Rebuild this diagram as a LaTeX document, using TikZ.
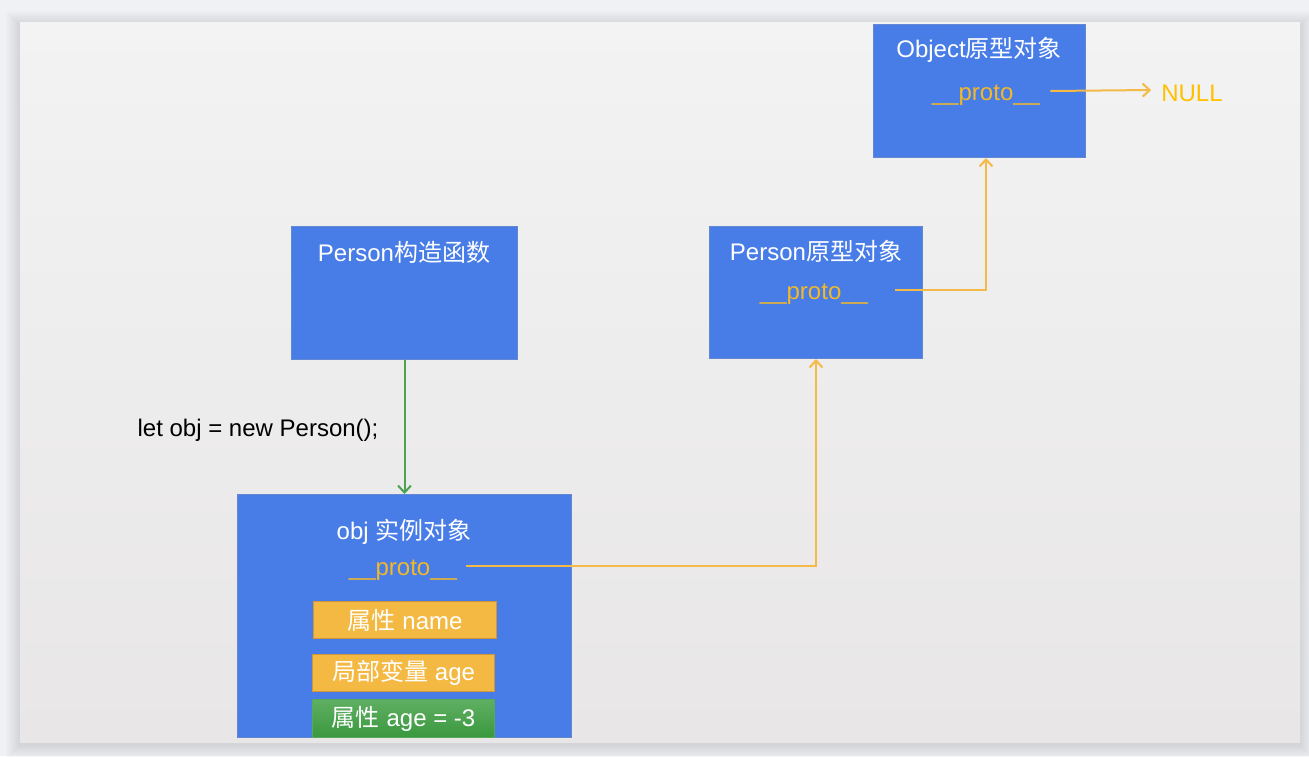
\documentclass[tikz,border=0pt]{standalone}
\usepackage{fontspec}
\setmainfont{Liberation Sans}
\newfontfamily\cjk{Noto Sans CJK SC}
\usetikzlibrary{arrows.meta}
\definecolor{outerbg}{RGB}{240,241,245}
\definecolor{slidetop}{RGB}{243,243,243}
\definecolor{slidebot}{RGB}{232,230,230}
\definecolor{boxblue}{RGB}{72,125,232}
\definecolor{boxedge}{RGB}{100,135,210}
\definecolor{protoC}{RGB}{242,184,40}
\definecolor{nullC}{RGB}{255,192,0}
\definecolor{lineC}{RGB}{244,185,70}
\definecolor{greenC}{RGB}{76,163,80}
\definecolor{orfill}{RGB}{244,185,66}
\definecolor{oredge}{RGB}{205,150,60}
\definecolor{grtop}{RGB}{95,175,98}
\definecolor{grbot}{RGB}{58,152,62}
\definecolor{gredge}{RGB}{88,168,90}
\begin{document}
\begin{tikzpicture}[x=1pt,y=-1pt,
  bluebox/.style={fill=boxblue,draw=boxedge,line width=1,anchor=north west,inner sep=0},
  txt/.style={inner sep=0,font=\fontsize{24}{28}\selectfont},
  title/.style={txt,text=white},
  proto/.style={txt,text=protoC},
  orbox/.style={fill=orfill,draw=oredge,line width=1.2,anchor=north west,inner sep=0,text=white,font=\fontsize{24}{28}\selectfont},
  grbox/.style={top color=grtop,bottom color=grbot,draw=gredge,line width=1.2,anchor=north west,inner sep=0,text=white,font=\fontsize{24}{28}\selectfont},
  oline/.style={draw=lineC,line width=2,-{Straight Barb[length=7,width=13,line width=2]}},
  gline/.style={draw=greenC,line width=2,-{Straight Barb[length=7,width=13,line width=2]}}
]
\useasboundingbox (0,0) rectangle (1309,756);
\fill[outerbg] (0,0) rectangle (1309,756);
\foreach \i in {1,...,14} \fill[black,opacity=0.006] (20-\i,22-\i+3) rectangle (1300+\i,742+\i+3);
\shade[top color=slidetop,bottom color=slidebot] (20,22) rectangle (1300,742);

% boxes
\node[bluebox,minimum width=212,minimum height=133] (ob) at (873,24) {};
\node[bluebox,minimum width=226,minimum height=133] (pc) at (291,226) {};
\node[bluebox,minimum width=213,minimum height=132] (pp) at (709,226) {};
\node[bluebox,minimum width=334,minimum height=243] (obj) at (237,494) {};

% texts
\node[title] (obtitle) at (979,50) {Object{\cjk 原型对象}};
\node[proto] (obproto) at (986,95) {\_\_proto\_\_};
\node[txt,text=nullC] (null) at (1192,93) {NULL};
\node[title] (pctitle) at (404,252) {Person{\cjk 构造函数}};
\node[title] (pptitle) at (816,251) {Person{\cjk 原型对象}};
\node[proto] (ppproto) at (814,294) {\_\_proto\_\_};
\node[txt,text=black] (let) at (258,430) {let obj = new Person();};
\node[title] (objtitle) at (404,532) {obj {\cjk 实例对象}};
\node[proto] (objproto) at (403,570) {\_\_proto\_\_};

\node[orbox,minimum width=183,minimum height=37] (pname) at (313,601) {{\cjk 属性} name};
\node[orbox,minimum width=182,minimum height=37] (page) at (312,654) {{\cjk 局部变量} age};
\node[grbox,minimum width=182,minimum height=38] (page3) at (312,699) {{\cjk 属性} age = -3};

% connectors
\draw[gline] (pc.south) -- (obj.north);
\draw[oline] ([xshift=9,yshift=4]objproto.east) -| (pp.south);
\draw[oline] ([xshift=27,yshift=4]ppproto.east) -| (obproto |- ob.south);
\draw[oline] ([xshift=10,yshift=4]obproto.east) -- ([xshift=-10,yshift=3]null.west);
\end{tikzpicture}
\end{document}
